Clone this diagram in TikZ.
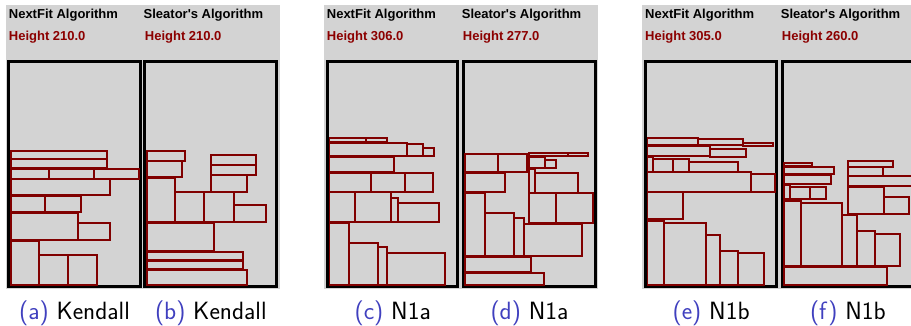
\documentclass[tikz,border=0pt]{standalone}
\usepackage{fontspec}
\newfontfamily\uifont{Liberation Sans}
\definecolor{panelgray}{RGB}{211,211,211}
\definecolor{packred}{RGB}{128,0,0}
\definecolor{heightred}{RGB}{140,0,0}
\definecolor{capblue}{RGB}{64,64,191}
\tikzset{
  panel/.style={fill=panelgray, draw=none},
  binframe/.style={draw=black, line width=3pt},
  item/.style={draw=packred, line width=1.7pt},
  algo/.style={font=\uifont\bfseries\fontsize{13}{15}\selectfont, anchor=base west, inner sep=0pt},
  hgt/.style={algo, text=heightred},
  subcap/.style={font=\sffamily\fontsize{25}{30}\selectfont, anchor=base, inner sep=0pt}
}
% one packed item: left, top, right, bottom
\newcommand\bx[4]{\draw[item] (#1,#2) rectangle (#3,#4);}
\begin{document}
\begin{tikzpicture}[x=1pt,y=-1pt]
\clip (0,0) rectangle (911,326);
\fill[white] (0,0) rectangle (911,326);

% three screenshots
\fill[panel] (6,5) rectangle (280,289.3);
\fill[panel] (324,5) rectangle (598.3,289.3);
\fill[panel] (642.3,5) rectangle (916.3,289.3);

% headers
\node[algo] (ta1) at (8.7,18.5) {NextFit Algorithm};
\node[hgt]  (ha1) at (8.7,40.5) {Height 210.0};
\node[algo] (tb1) at (143.5,18.5) {Sleator's Algorithm};
\node[hgt]  (hb1) at (144.7,40.5) {Height 210.0};

\node[algo] (ta2) at (326.7,18.5) {NextFit Algorithm};
\node[hgt]  (ha2) at (326.7,40.5) {Height 306.0};
\node[algo] (tb2) at (461.7,18.5) {Sleator's Algorithm};
\node[hgt]  (hb2) at (462.7,40.5) {Height 277.0};

\node[algo] (ta3) at (645,18.5) {NextFit Algorithm};
\node[hgt]  (ha3) at (645,40.5) {Height 305.0};
\node[algo] (tb3) at (780.7,18.5) {Sleator's Algorithm};
\node[hgt]  (hb3) at (781.7,40.5) {Height 260.0};

% bins
\draw[binframe] (8.8,61.8) rectangle (140.2,286.5);
\draw[binframe] (144.8,61.8) rectangle (276.8,286.5);
\draw[binframe] (327.5,61.8) rectangle (457.8,286.5);
\draw[binframe] (463.2,61.8) rectangle (595.8,286.5);
\draw[binframe] (645.5,61.8) rectangle (776.8,286.5);
\draw[binframe] (782.2,61.8) rectangle (913.5,286.5);

% Kendall, NextFit
\bx{10.8}{151}{106.7}{159.3}
\bx{10.8}{159.3}{106.7}{168.3}
\bx{10.8}{169}{49}{179}
\bx{49}{169}{94}{179}
\bx{94}{169}{138.7}{179}
\bx{10.8}{179}{110}{195.3}
\bx{10.8}{196}{45.3}{212}
\bx{45.3}{196}{80.7}{212}
\bx{10.8}{212.7}{77.7}{240}
\bx{77.7}{222.7}{110}{240}
\bx{10.8}{241}{39}{285}
\bx{39}{255.3}{68.3}{285}
\bx{68.3}{255.3}{97}{285}

% Kendall, Sleator
\bx{146.8}{150.7}{185}{160.7}
\bx{146.8}{160.7}{181.7}{177.3}
\bx{146.8}{178}{175}{222.3}
\bx{175}{192.3}{204.3}{222.3}
\bx{204.3}{192.3}{233.7}{222.3}
\bx{233.7}{205.3}{266.3}{222.3}
\bx{211.3}{154.7}{256.3}{164.7}
\bx{211.3}{164.7}{256.3}{174.7}
\bx{211.3}{174.7}{246.7}{191.7}
\bx{146.8}{223.3}{214.3}{251}
\bx{146.8}{251.7}{243.3}{260}
\bx{146.8}{260.7}{243.3}{269}
\bx{146.8}{269.7}{246.7}{285}

% N1a, NextFit
\bx{329.5}{138.3}{366}{141.7}
\bx{366}{138.3}{386.7}{141.7}
\bx{329.5}{142.7}{407.3}{156}
\bx{407.3}{144.3}{423.3}{156}
\bx{423.3}{148.3}{434.3}{156}
\bx{329.5}{156.7}{394}{171.7}
\bx{329.5}{172.7}{370.7}{191.7}
\bx{370.7}{173.3}{404.7}{191.7}
\bx{404.7}{173.3}{433.3}{191.7}
\bx{329.5}{192.3}{354.7}{221.7}
\bx{354.7}{192.3}{391.3}{221.7}
\bx{391.3}{198.3}{397.7}{221.7}
\bx{397.7}{203}{439}{221.7}
\bx{329.5}{222.7}{349.3}{285}
\bx{349.3}{242.7}{377.7}{285}
\bx{377.7}{247.3}{387.3}{285}
\bx{387.3}{253.3}{445.3}{285}

% N1a, Sleator
\bx{465.2}{154}{498.3}{172}
\bx{498.3}{154}{527.3}{172}
\bx{529.3}{152.7}{567.7}{156}
\bx{567.7}{152.7}{588.3}{156}
\bx{529.3}{156.7}{545}{167.7}
\bx{545}{160.3}{556.3}{167.7}
\bx{465.2}{173.3}{505.3}{192.3}
\bx{529.3}{169}{535}{192.7}
\bx{535}{173.3}{577.7}{192.7}
\bx{465.2}{193}{485}{256}
\bx{485}{212.7}{514}{256}
\bx{514}{218}{524}{256}
\bx{529.3}{193.3}{556.3}{223.3}
\bx{556.3}{193.3}{592.7}{223.3}
\bx{524}{224}{582.3}{256}
\bx{465.2}{256.7}{530.7}{271.7}
\bx{465.2}{272.7}{544}{285}

% N1b, NextFit
\bx{647.5}{138.3}{698.3}{145}
\bx{698.3}{139.3}{743.3}{145}
\bx{743.3}{142.7}{772.7}{145.7}
\bx{647.5}{146}{710}{156}
\bx{710}{148.7}{746}{156.7}
\bx{647.5}{157.3}{652.7}{171.7}
\bx{652.7}{159.3}{672.7}{171.7}
\bx{672.7}{159.3}{688.7}{171.7}
\bx{688.7}{161.7}{737.7}{171.7}
\bx{647.5}{172.3}{750.7}{191.7}
\bx{750.7}{174.3}{775.3}{191.7}
\bx{647.5}{191.7}{682.7}{219.3}
\bx{647.5}{220.7}{664}{285}
\bx{664}{222.7}{705.7}{285}
\bx{705.7}{234.7}{720}{285}
\bx{720}{251}{738.3}{285}
\bx{738.3}{253.3}{763.7}{285}

% N1b, Sleator
\bx{784.2}{163.3}{811.7}{166}
\bx{784.2}{167}{834.3}{174.3}
\bx{784.2}{175}{831.3}{184.3}
\bx{784.2}{185.3}{790}{199.3}
\bx{790}{187.3}{810}{199.3}
\bx{810}{187.3}{825.7}{199.3}
\bx{784.2}{200.7}{801}{266}
\bx{801}{202.7}{842}{266}
\bx{842}{215}{856.7}{266}
\bx{856.7}{231}{875}{266}
\bx{875}{233.7}{899.7}{266}
\bx{784.2}{266.7}{886.7}{285}
\bx{848}{160.7}{892.7}{166.7}
\bx{848}{167.3}{883.3}{175.7}
\bx{848}{176}{912}{186}
\bx{848}{186.7}{884.3}{214.3}
\bx{884.3}{197.3}{909.3}{214.3}

% sub-captions
\node[subcap] (capa) at (74.5,319) {\textcolor{capblue}{(a)} Kendall};
\node[subcap] (capb) at (210.8,319) {\textcolor{capblue}{(b)} Kendall};
\node[subcap] (capc) at (392.7,319) {\textcolor{capblue}{(c)} N1a};
\node[subcap] (capd) at (529.5,319) {\textcolor{capblue}{(d)} N1a};
\node[subcap] (cape) at (711.1,319) {\textcolor{capblue}{(e)} N1b};
\node[subcap] (capf) at (847.9,319) {\textcolor{capblue}{(f)} N1b};
\end{tikzpicture}
\end{document}
